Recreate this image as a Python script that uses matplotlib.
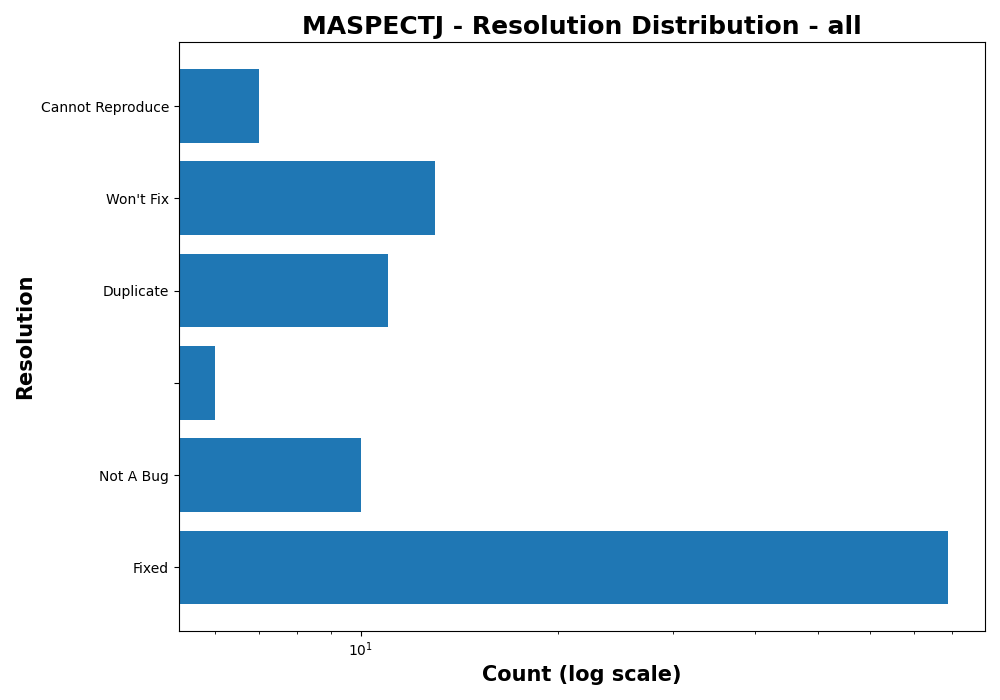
import matplotlib
matplotlib.use("Agg")
import matplotlib.pyplot as plt

# Resolution counts, bottom to top
resolutions = ["Fixed", "Not A Bug", "", "Duplicate", "Won't Fix", "Cannot Reproduce"]
counts = [79, 10, 6, 11, 13, 7]

fig, ax = plt.subplots(figsize=(10, 7), dpi=100)
ax.barh(range(len(resolutions)), counts, color="#1f77b4")
ax.set_yticks(range(len(resolutions)))
ax.set_yticklabels(resolutions)
ax.set_xscale("log")

ax.set_title("MASPECTJ - Resolution Distribution - all", fontsize=18, fontweight="bold")
ax.set_xlabel("Count (log scale)", fontsize=15, fontweight="bold")
ax.set_ylabel("Resolution", fontsize=15, fontweight="bold")

plt.tight_layout()
plt.savefig("out.png")
